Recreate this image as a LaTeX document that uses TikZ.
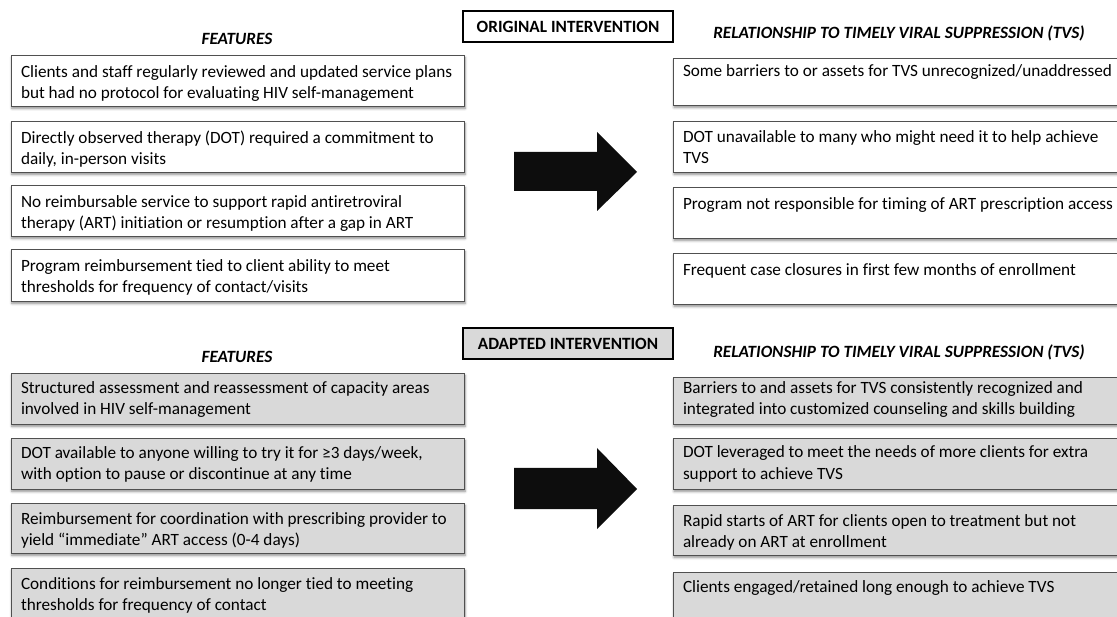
\documentclass[tikz,border=0pt]{standalone}
\usepackage{fontspec}
\setmainfont{Carlito}[Ligatures=NoCommon]
\usetikzlibrary{shadows.blur}
\definecolor{boxgray}{HTML}{D9D9D9}
\definecolor{edgegray}{HTML}{505050}
\definecolor{arrowblack}{HTML}{0D0D0D}
\newcommand{\tl}[1]{\parbox[t]{445pt}{\raggedright #1}}
\begin{document}
\begin{tikzpicture}[x=1pt,y=-1pt,
  every node/.style={inner sep=0pt, outer sep=0pt},
  card/.style={draw=edgegray, line width=0.9pt, anchor=north west,
    blur shadow={shadow xshift=1pt, shadow yshift=-2.5pt, shadow blur radius=2.5pt, shadow blur steps=6, shadow opacity=45}},
  wcard/.style={card, fill=white},
  gcard/.style={card, fill=boxgray},
  txt/.style={anchor=base west, font=\fontsize{17.2}{21}\selectfont},
  colhead/.style={font=\fontsize{17.2}{20}\selectfont\bfseries\itshape},
  hdrbox/.style={draw=black, line width=2.4pt, anchor=north west, minimum width=210pt, minimum height=31pt,
    font=\fontsize{17.2}{20}\selectfont\bfseries},
  bigarrow/.style={fill=arrowblack}
]
\useasboundingbox (0,0) rectangle (1117,617);
\clip (0,0) rectangle (1117,617);

% ---------- ORIGINAL ----------
\node[hdrbox, fill=white] (orig) at (463,11) {ORIGINAL INTERVENTION};
\node[colhead] (featA) at (237,39) {FEATURES};
\node[colhead] (relA) at (899,33) {RELATIONSHIP TO TIMELY VIRAL SUPPRESSION (TVS)};

\node[wcard, minimum width=453pt, minimum height=51pt] (a1) at (11,55) {};
\node[wcard, minimum width=453pt, minimum height=51pt] (a2) at (11,121) {};
\node[wcard, minimum width=453pt, minimum height=51pt] (a3) at (11,185) {};
\node[wcard, minimum width=453pt, minimum height=52pt] (a4) at (11,249) {};
\node[txt] (a1t) at (21,78) {\tl{Clients and staff regularly reviewed and updated service plans\\but had no protocol for evaluating HIV self-management}};
\node[txt] (a2t) at (21,144) {\tl{Directly observed therapy (DOT) required a commitment to\\daily, in-person visits}};
\node[txt] (a3t) at (21,208) {\tl{No reimbursable service to support rapid antiretroviral\\therapy (ART) initiation or resumption after a gap in ART}};
\node[txt] (a4t) at (21,272) {\tl{Program reimbursement tied to client ability to meet\\thresholds for frequency of contact/visits}};

\node[wcard, minimum width=460pt, minimum height=47pt] (b1) at (673,58) {};
\node[wcard, minimum width=460pt, minimum height=51pt] (b2) at (673,121) {};
\node[wcard, minimum width=460pt, minimum height=51pt] (b3) at (673,187) {};
\node[wcard, minimum width=460pt, minimum height=51pt] (b4) at (673,253) {};
\node[txt] (b1t) at (683,77) {\tl{Some barriers to or assets for TVS unrecognized/unaddressed}};
\node[txt] (b2t) at (683,143) {\tl{DOT unavailable to many who might need it to help achieve\\TVS}};
\node[txt] (b3t) at (683,210) {\tl{Program not responsible for timing of ART prescription access}};
\node[txt] (b4t) at (683,276) {\tl{Frequent case closures in first few months of enrollment}};

\fill[bigarrow] (514,152) -- (597,152) -- (597,132) -- (637,172) -- (597,211) -- (597,191) -- (514,191) -- cycle;

% ---------- ADAPTED ----------
\node[hdrbox, fill=boxgray] (adap) at (463,328) {ADAPTED INTERVENTION};
\node[colhead] (featB) at (237,357) {FEATURES};
\node[colhead] (relB) at (899,352) {RELATIONSHIP TO TIMELY VIRAL SUPPRESSION (TVS)};

\node[gcard, minimum width=453pt, minimum height=51pt] (c1) at (11,373) {};
\node[gcard, minimum width=453pt, minimum height=51pt] (c2) at (11,438) {};
\node[gcard, minimum width=453pt, minimum height=50pt] (c3) at (11,503) {};
\node[gcard, minimum width=453pt, minimum height=55pt] (c4) at (11,568) {};
\node[txt] (c1t) at (21,394) {\tl{Structured assessment and reassessment of capacity areas\\involved in HIV self-management}};
\node[txt] (c2t) at (21,459) {\tl{DOT available to anyone willing to try it for ≥3 days/week,\\with option to pause or discontinue at any time}};
\node[txt] (c3t) at (21,524) {\tl{Reimbursement for coordination with prescribing provider to\\yield “immediate” ART access (0-4 days)}};
\node[txt] (c4t) at (21,589) {\tl{Conditions for reimbursement no longer tied to meeting\\thresholds for frequency of contact}};

\node[gcard, minimum width=460pt, minimum height=47pt] (d1) at (673,377) {};
\node[gcard, minimum width=460pt, minimum height=51pt] (d2) at (673,438) {};
\node[gcard, minimum width=460pt, minimum height=50pt] (d3) at (673,505) {};
\node[gcard, minimum width=460pt, minimum height=55pt] (d4) at (673,572) {};
\node[txt] (d1t) at (683,394) {\tl{Barriers to and assets for TVS consistently recognized and\\integrated into customized counseling and skills building}};
\node[txt] (d2t) at (683,458) {\tl{DOT leveraged to meet the needs of more clients for extra\\support to achieve TVS}};
\node[txt] (d3t) at (683,526) {\tl{Rapid starts of ART for clients open to treatment but not\\already on ART at enrollment}};
\node[txt] (d4t) at (683,592) {\tl{Clients engaged/retained long enough to achieve TVS}};

\fill[bigarrow] (514,468) -- (597,468) -- (597,448) -- (637,489) -- (597,529) -- (597,509) -- (514,509) -- cycle;
\end{tikzpicture}
\end{document}
